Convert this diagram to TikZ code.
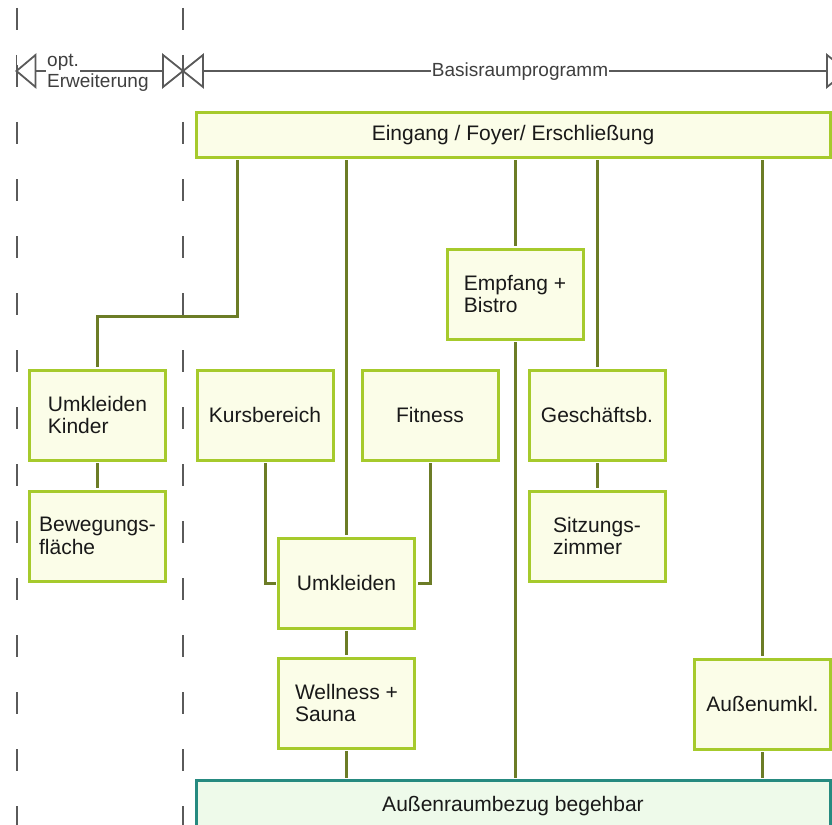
\documentclass[tikz,border=0pt]{standalone}
\usepackage{fontspec}
\setmainfont{Liberation Sans}
\usetikzlibrary{calc}

\definecolor{raumgruen}{RGB}{166,202,44}
\definecolor{raumfill}{RGB}{251,253,232}
\definecolor{linieoliv}{RGB}{108,124,38}
\definecolor{aussenrand}{RGB}{38,138,128}
\definecolor{aussenfill}{RGB}{238,250,234}
\definecolor{massgrau}{RGB}{90,90,90}

\begin{document}
\begin{tikzpicture}[
    x=1pt, y=-1pt,
    font=\fontsize{21}{22.5}\selectfont,
    conn/.style={draw=linieoliv, line width=3pt, shorten <=1.5pt, shorten >=1.5pt},
    raum/.style={draw=raumgruen, fill=raumfill, line width=3pt, align=left,
                 text=black!90, minimum width=136pt, minimum height=90pt, inner sep=2pt},
    band/.style={raum, align=center, minimum width=634pt},
    guide/.style={draw=massgrau, line width=2pt, dash pattern=on 22pt off 35pt},
    dim/.style={draw=massgrau, line width=1.8pt},
    dimtxt/.style={font=\fontsize{19}{20}\selectfont, text=massgrau!70!black, inner sep=1pt}
]
\useasboundingbox (0,0) rectangle (832,824);
\clip (0,0) rectangle (832,824);
\fill[white] (0,0) rectangle (832,824);

% ---- columns ----
\def\cK{97.5}
\def\cA{265}
\def\cB{346.5}
\def\cC{430}
\def\cD{515}
\def\cE{597}
\def\cF{762.5}
% ---- rows ----
\def\rEmp{294}
\def\rMid{415}
\def\rLow{536}
\def\rUmk{583}
\def\rWel{703}

% ---- guide lines (dashed) ----
\draw[guide] (16.5,8) -- (16.5,830);
\draw[guide] (183,8) -- (183,830);

% ---- dimension line ----
\coordinate (dimL) at (16.5,71);
\coordinate (dimM) at (183,71);
\coordinate (dimR) at (847,71);

\draw[dim] ($(dimL)+(0,-16)$) -- ($(dimL)+(0,16)$);
\draw[dim] (dimL) -- ++(19,-16) -- ++(0,32) -- cycle;
\draw[dim] ($(dimM)+(0,-16)$) -- ($(dimM)+(0,16)$);
\draw[dim] (dimM) -- ++(-20,-16) -- ++(0,32) -- cycle;
\draw[dim] (dimM) -- ++(20,-16) -- ++(0,32) -- cycle;
\draw[dim] (dimR) -- ++(-20,-16) -- ++(0,32) -- cycle;

\node[dimtxt, anchor=base west] (opt) at (46,67) {opt.};
\node[dimtxt, anchor=base west] (erw) at (46,88) {Erweiterung};
\node[dimtxt, anchor=base] (basis) at (520,77) {Basisraumprogramm};

\draw[dim] ($(dimL)+(19,0)$) -- (opt.west |- dimL);
\draw[dim] (opt.east |- dimL) -- ($(dimM)+(-20,0)$);
\draw[dim] ($(dimM)+(20,0)$) -- (basis.west |- dimM);
\draw[dim] (basis.east |- dimM) -- ($(dimR)+(-20,0)$);

% ---- rooms ----
\node[band, minimum height=44pt] (eingang) at (513,135) {Eingang / Foyer/ Erschließung};
\node[raum] (empfang)  at (\cD,\rEmp) {Empfang +\\Bistro};
\node[raum] (kinder)   at (\cK,\rMid) {Umkleiden\\Kinder};
\node[raum] (kurs)     at (\cA,\rMid) {Kursbereich};
\node[raum] (fitness)  at (\cC,\rMid) {Fitness};
\node[raum] (geschaeft) at (\cE,\rMid) {Geschäftsb.};
\node[raum] (bewegung) at (\cK,\rLow) {Bewegungs-\\fläche};
\node[raum] (sitzung)  at (\cE,\rLow) {Sitzungs-\\zimmer};
\node[raum] (umkl)     at (\cB,\rUmk) {Umkleiden};
\node[raum] (wellness) at (\cB,\rWel) {Wellness +\\Sauna};
\node[raum] (aussenumkl) at (\cF,\rWel+1) {Außenumkl.};
\node[band, draw=aussenrand, fill=aussenfill, minimum height=51pt]
     (aussen) at (513,806) {Außenraumbezug begehbar};

% ---- connections ----
\coordinate (knick) at (237,316);
\draw[conn] (knick |- eingang.south) -- (knick) -| (kinder.north);
\draw[conn] (kinder) -- (bewegung);
\draw[conn] (umkl.north |- eingang.south) -- (umkl.north);
\draw[conn] (empfang.north |- eingang.south) -- (empfang.north);
\draw[conn] (empfang.south) -- (empfang.south |- aussen.north);
\draw[conn] (geschaeft.north |- eingang.south) -- (geschaeft.north);
\draw[conn] (geschaeft) -- (sitzung);
\draw[conn] (aussenumkl.north |- eingang.south) -- (aussenumkl.north);
\draw[conn] (aussenumkl.south) -- (aussenumkl.south |- aussen.north);
\draw[conn] (kurs.south) |- (umkl.west);
\draw[conn] (fitness.south) |- (umkl.east);
\draw[conn] (umkl) -- (wellness);
\draw[conn] (wellness.south) -- (wellness.south |- aussen.north);

\end{tikzpicture}
\end{document}
